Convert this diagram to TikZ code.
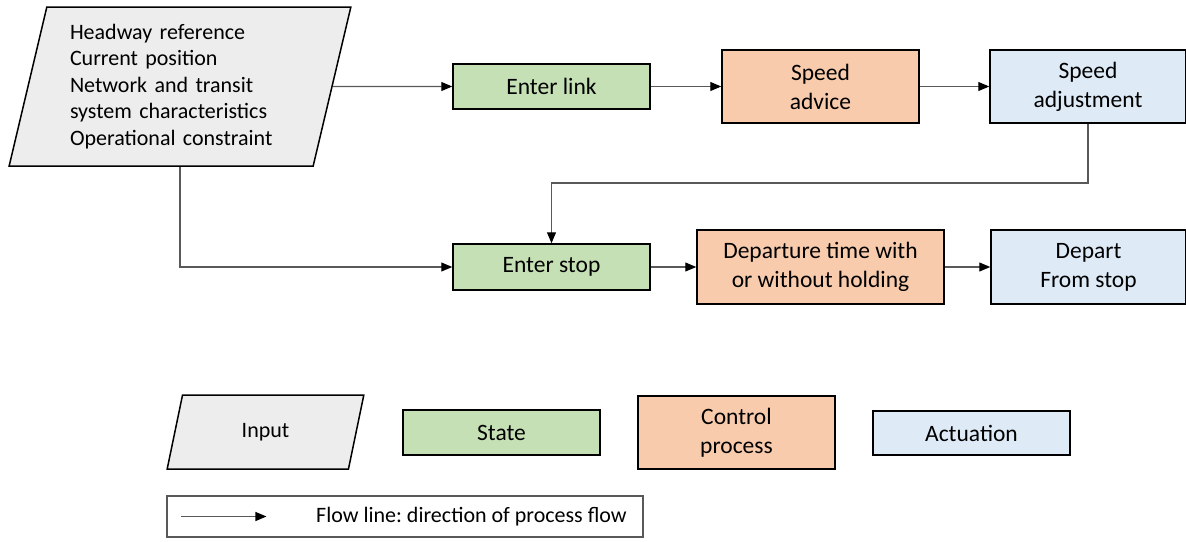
\documentclass[tikz,border=0pt]{standalone}
\usepackage{fontspec}
\setmainfont{Carlito}
\usetikzlibrary{arrows.meta,shapes.geometric}
\definecolor{inputgray}{HTML}{EDEDED}
\definecolor{stategreen}{HTML}{C5E0B4}
\definecolor{ctrlorange}{HTML}{F8CBAD}
\definecolor{actblue}{HTML}{DEEBF7}
\definecolor{linegray}{HTML}{595959}
\frenchspacing
\begin{document}
\begin{tikzpicture}[x=1pt,y=-1pt,
  box/.style={draw=black,line width=1.5pt,minimum width=197pt,minimum height=45pt,
    inner sep=0pt,align=center,font=\fontsize{23.5}{29}\selectfont},
  statebox/.style={box,fill=stategreen},
  ctrlbox/.style={box,fill=ctrlorange,minimum height=73pt},
  actbox/.style={box,fill=actblue,minimum height=73pt},
  inbox/.style={trapezium,trapezium left angle=76,trapezium right angle=104,
    trapezium stretches=true,draw=black,line width=1.5pt,fill=inputgray,inner sep=0pt},
  flow/.style={draw=linegray,line width=1.1pt,-{Triangle[length=11pt,width=9pt,color=black]}}
]
\useasboundingbox (0,0) rectangle (1186,541);

% input data block
\node[inbox,minimum width=342pt,minimum height=159pt,align=left,text width=220pt,
  font=\fontsize{22}{26.5}\selectfont] (input) at (180,86.5)
  {Headway reference\\Current position\\Network and transit\\system characteristics\\Operational constraint};

% link stage
\node[statebox] (elink) at (551.5,86.5) {Enter link};
\node[ctrlbox] (advice) at (820.5,86.5) {Speed\\advice};
\node[actbox,minimum width=196pt] (adjust) at (1088,86.5) {Speed\\adjustment};

% stop stage
\node[statebox,minimum height=46pt] (estop) at (551.5,267) {Enter stop};
\node[ctrlbox,minimum width=247pt,minimum height=74pt] (depart) at (820.5,267) {Departure time with\\or without holding};
\node[actbox,minimum width=195pt,minimum height=74pt] (leave) at (1088.5,267) {Depart\\From stop};

% process flow
\coordinate (turn) at (1088,183);
\draw[flow] (input.east) -- (elink.west);
\draw[flow] (elink.east) -- (advice.west);
\draw[flow] (advice.east) -- (adjust.west);
\draw[flow] (adjust.south) -- (turn) -| (estop.north);
\draw[flow] (input.south) |- (estop.west);
\draw[flow] (estop.east) -- (depart.west);
\draw[flow] (depart.east) -- (leave.west);

% legend
\node[inbox,minimum width=197pt,minimum height=74pt,font=\fontsize{22}{26.5}\selectfont] (lin) at (265.5,432) {\raisebox{-2pt}{Input}};
\node[statebox] (lstate) at (501.5,432.5) {State};
\node[ctrlbox] (lctrl) at (736.5,432.5) {Control\\process};
\node[actbox,minimum height=44pt] (lact) at (971.5,433) {Actuation};
\node[draw=linegray,line width=1.1pt,minimum width=476pt,minimum height=41pt,inner sep=0pt] (lflow) at (405,516.5) {};
\draw[flow] ([xshift=15pt]lflow.west) -- ++(85,0);
\node[anchor=west,inner sep=0pt,font=\fontsize{22}{26.5}\selectfont] (lflowtext) at (316,516.5) {Flow line: direction of process flow};
\end{tikzpicture}
\end{document}
